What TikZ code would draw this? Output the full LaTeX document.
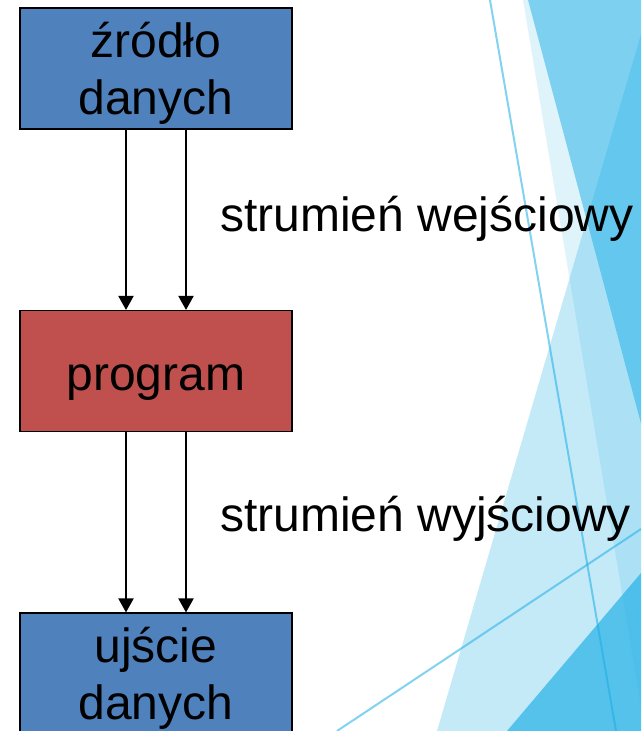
\documentclass[tikz,border=0pt]{standalone}
\usepackage{fontspec}
\setmainfont{Liberation Sans}
\usetikzlibrary{arrows.meta}
\definecolor{facet}{HTML}{1CADE4}
\definecolor{hopxanh}{HTML}{4F81BD}
\definecolor{hopdo}{HTML}{C0504D}
\newcommand{\dongtren}{\rule{0pt}{44pt}}
\begin{document}
\begin{tikzpicture}[x=1pt,y=-1pt]
\tikzset{hop/.style={draw=black,line width=1.5pt,minimum width=272pt,minimum height=121pt,inner sep=0pt,align=center,font=\fontsize{48}{57}\selectfont},
chu/.style={anchor=base west,inner sep=0pt,font=\fontsize{48}{57}\selectfont},
mui/.style={line width=2pt,-{Triangle[length=14pt,width=15pt]}},
vet/.style={draw=facet,draw opacity=0.55,line width=2pt}}
\useasboundingbox (0,0) rectangle (641,731);
% nen
\begin{scope}
\clip (0,0) rectangle (641,731);
\fill[facet,fill opacity=0.14] (523,0)--(760,0)--(760,731)--(645,731)--cycle;
\fill[facet,fill opacity=0.5] (528,0)--(760,0)--(760,731)--(723,731)--cycle;
\fill[facet,fill opacity=0.26] (437,731)--(651,0)--(760,0)--(760,731)--cycle;
\fill[facet,fill opacity=0.66] (507,731)--(641,573)--(641,731)--cycle;
\draw[vet] (490,0)--(616,731);
\draw[vet] (337,731)--(641,529);
\end{scope}
\node[hop,fill=hopxanh] (zrodlo) at (156,68.5) {\dongtren źródło\\danych};
\node[hop,fill=hopdo,text height=46pt,text depth=8pt] (prog) at (156,371.2) {program};
\node[hop,fill=hopxanh] (ujscie) at (156,673.7) {\dongtren ujście\\danych};
\foreach \d in {-30,30} {
\draw[mui] ([xshift=\d pt]zrodlo.south)--([xshift=\d pt]prog.north);
\draw[mui] ([xshift=\d pt]prog.south)--([xshift=\d pt]ujscie.north);
}
\node[chu] (wej) at (220,231.5) {strumień wejściowy};
\node[chu] (wyj) at (220,531.7) {strumień wyjściowy};
\end{tikzpicture}
\end{document}
